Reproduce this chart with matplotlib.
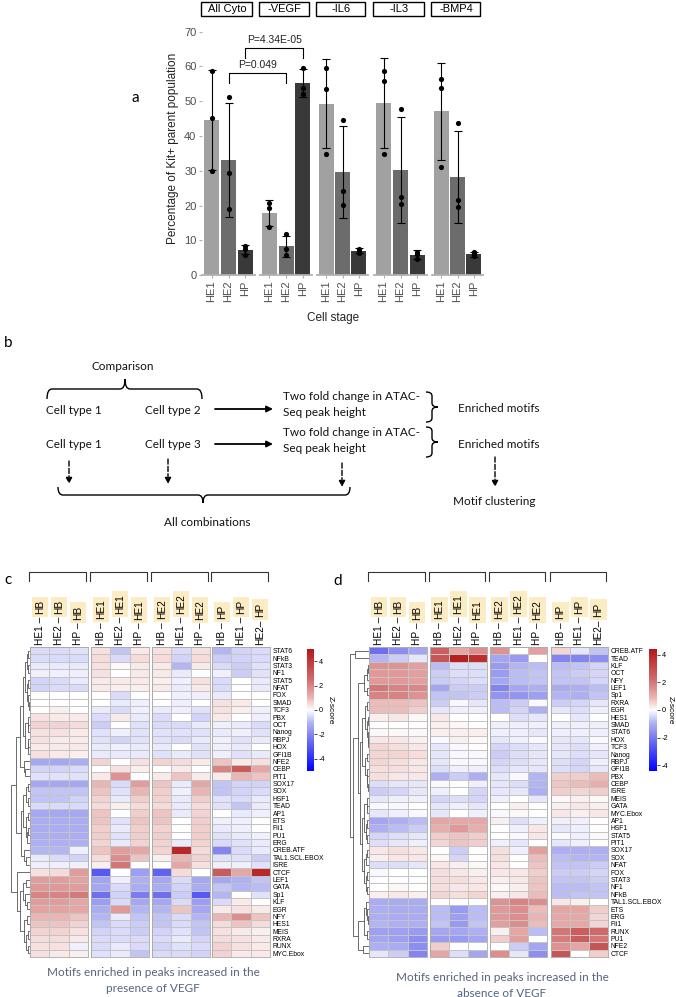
import numpy as np
import matplotlib
matplotlib.use("Agg")
import matplotlib.pyplot as plt
from matplotlib.colors import LinearSegmentedColormap, Normalize
from matplotlib.cm import ScalarMappable
from matplotlib.patches import Rectangle, FancyArrowPatch, PathPatch
from matplotlib.path import Path
from matplotlib.lines import Line2D

W, H = 676, 997
plt.rcParams['font.family'] = ['Liberation Sans', 'DejaVu Sans']

# ---------------- panel a data ----------------
conditions = ["All Cyto", "-VEGF", "-IL6", "-IL3", "-BMP4"]
stages = ["HE1", "HE2", "HP"]
stage_colors = ["#a1a1a1", "#6c6c6c", "#393939"]
bar_mean = [[44.6, 33.2, 7.3], [17.9, 8.4, 55.2], [49.3, 29.7, 7.0],
            [49.6, 30.3, 5.9], [47.1, 28.3, 6.0]]
bar_sd = [[14.3, 16.4, 1.3], [3.6, 3.0, 4.0], [12.8, 13.1, 0.7],
          [12.9, 15.2, 1.3], [14.0, 13.3, 0.7]]
dots = [
    [[58.8, 45.3, 30.0], [51.1, 29.5, 19.0], [8.5, 7.5, 5.8]],
    [[20.7, 19.3, 13.8], [11.9, 7.5, 5.8], [59.7, 53.9, 52.0]],
    [[59.5, 53.5, 34.9], [44.6, 24.2, 20.2], [7.6, 7.0, 6.5]],
    [[58.7, 55.8, 34.8], [47.7, 22.6, 20.5], [6.7, 6.0, 4.6]],
    [[56.3, 53.9, 31.0], [43.7, 21.6, 19.7], [6.8, 6.0, 5.5]],
]
# (facet, stage) pairs compared, bracket top, bracket end, label
comparisons = [((0, 1), (1, 1), 58.2, 55.2, "P=0.049"),
               ((0, 2), (1, 2), 65.2, 62.4, "P=4.34E-05")]

# ---------------- heatmap data ----------------
col_labels = ["HE1 – HB", "HE2 – HB", "HP – HB",
              "HB – HE1", "HE2 – HE1", "HP – HE1",
              "HB – HE2", "HE1 – HE2", "HP – HE2",
              "HB – HP", "HE1 – HP", "HE2– HP"]

c_motifs = ["STAT6", "NFkB", "STAT3", "NF1", "STAT5", "NFAT", "FOX", "SMAD", "TCF3",
            "PBX", "OCT", "Nanog", "RBPJ", "HOX", "GFI1B", "NFE2", "CEBP", "PIT1",
            "SOX17", "SOX", "HSF1", "TEAD", "AP1", "ETS", "Fli1", "PU1", "ERG",
            "CREB.ATF", "TAL1.SCL.EBOX", "ISRE", "CTCF", "LEF1", "GATA", "Sp1", "KLF",
            "EGR", "NFY", "HES1", "MEIS", "RXRA", "RUNX", "MYC.Ebox"]
c_z = [
    [-0.5, -0.5, -0.4, 0.4, -0.8, 0.3, 0.4, -0.5, 0.4, -1.0, -0.6, -0.5],
    [-0.5, -0.5, -0.5, 0.5, -0.5, 0.5, 0.5, -0.6, 0.5, -0.7, -0.6, -0.5],
    [-0.3, -0.3, -0.3, 0.4, 0.1, 0.3, 0.3, -1.0, 0.3, -0.5, -0.7, -0.4],
    [-0.2, -0.2, -0.2, 0.4, 0.0, 0.3, 0.3, -0.3, 0.0, -0.2, -0.7, -0.4],
    [-0.6, -0.5, -0.3, 0.3, 0.3, 0.3, 0.2, -0.2, 0.4, -0.5, 0.0, -0.3],
    [-0.6, -0.5, -0.5, 0.3, 0.2, 0.2, 0.3, -0.3, 0.3, -0.5, 0.0, -0.3],
    [0.0, 0.0, 0.0, 0.0, -0.5, 0.0, 0.0, -0.2, -0.2, -0.3, 0.0, 0.0],
    [0.0, 0.0, 0.0, 0.0, -0.3, -0.2, 0.0, -0.2, 0.0, 0.4, 0.3, 0.0],
    [0.0, 0.2, 0.0, -0.3, -0.5, -0.2, -0.3, -0.2, -0.4, 0.4, 0.2, -0.2],
    [0.4, 0.3, 0.3, -0.5, 0.3, -0.3, -0.5, 0.0, -0.6, 0.3, 0.0, -0.2],
    [0.6, 0.6, 0.5, -0.7, 0.0, -0.4, -0.5, -0.5, -0.3, -0.2, -0.3, -0.5],
    [0.4, 0.4, 0.3, -0.4, -0.2, -0.4, -0.4, -0.4, -0.4, -0.3, -0.2, -0.4],
    [0.4, 0.3, 0.3, -0.4, -0.6, -0.4, -0.4, -0.5, -0.3, -0.2, -0.4, -0.3],
    [0.3, 0.3, 0.3, -0.3, -0.2, -0.3, -0.3, 0.0, -0.4, -0.2, -0.3, 0.0],
    [0.4, 0.3, 0.2, -0.3, -0.3, -0.3, -0.4, -0.3, -0.4, -0.2, -0.4, -0.3],
    [-1.3, -1.3, -1.2, 0.6, 0.0, 0.4, 0.6, 0.5, 0.3, 0.8, 0.3, 0.4],
    [-0.6, -0.6, -0.5, 0.0, 0.4, 0.2, 0.0, 0.3, 0.0, 2.0, 3.0, 1.3],
    [-0.4, -0.4, -0.4, 0.3, 1.7, 0.0, 0.3, 0.8, 0.3, 0.3, 1.0, 0.8],
    [-1.3, -1.3, -1.3, 1.0, -0.5, 1.5, 0.8, -0.3, 1.3, -0.8, -0.6, -0.6],
    [-0.8, -0.8, -0.8, 0.8, -0.4, 1.0, 0.7, -0.2, 1.0, -0.8, -0.6, -0.5],
    [-0.8, -0.8, -0.6, 0.6, -0.3, 0.7, 0.6, -0.3, 0.7, -0.4, -0.5, -0.3],
    [-0.5, -0.5, -0.5, 0.5, 0.2, 0.5, 0.5, -0.3, 0.5, -0.4, -0.8, -0.3],
    [-1.3, -1.3, -1.3, 0.8, 0.0, 0.7, 0.8, -0.3, 0.6, 0.0, -0.3, -0.2],
    [-1.2, -1.2, -1.2, 0.8, -0.4, 0.8, 0.8, 0.0, 0.7, -0.2, -0.2, 0.0],
    [-1.2, -1.2, -1.2, 0.7, -0.3, 0.7, 0.6, 0.0, 0.7, -0.3, -0.2, 0.0],
    [-1.2, -1.2, -1.2, 0.7, -0.4, 0.7, 0.7, 0.0, 0.7, -0.4, -0.3, -0.2],
    [-1.1, -1.1, -1.1, 0.6, -0.3, 0.6, 0.6, -0.3, 0.6, -0.5, -0.4, -0.3],
    [-1.0, -1.0, -0.2, 0.8, 1.5, 1.3, 0.6, 4.5, 0.5, -2.0, -0.5, -0.3],
    [-0.3, -0.5, -0.6, 0.5, 1.8, 0.8, 0.2, 1.0, 0.6, -0.4, -0.4, -0.7],
    [-0.2, -0.2, -0.2, 0.2, 2.3, 0.0, 0.0, 1.3, 0.4, -0.2, -0.2, -0.4],
    [0.4, 0.5, 1.5, -3.0, 0.0, -1.5, -2.8, 0.5, 0.0, 3.0, 1.3, 4.5],
    [1.5, 1.5, 1.4, -1.4, -0.2, -1.1, -1.3, -0.5, -1.3, -1.3, -1.1, -0.8],
    [1.6, 1.6, 1.5, -1.3, -0.5, -1.2, -1.2, -0.6, -1.2, -0.8, -1.0, -0.9],
    [2.0, 2.0, 2.2, -2.5, -0.6, -2.2, -2.5, -0.7, -3.0, -1.0, 0.0, -0.4],
    [1.5, 1.5, 1.3, -1.5, -0.5, -1.3, -1.3, -0.5, -1.5, -0.5, 0.3, 0.0],
    [1.4, 1.4, 1.3, -1.2, 1.6, -1.0, -1.0, 0.8, -1.3, 0.3, 0.4, 0.3],
    [1.0, 1.0, 0.8, -1.0, -0.3, -0.8, -0.8, -0.5, -1.0, 1.0, 1.8, 0.8],
    [0.8, 0.8, 0.6, -0.8, -0.5, -0.7, -0.8, -0.5, -0.8, 0.5, 0.8, 0.5],
    [0.6, 0.6, 0.4, -0.6, -0.5, -0.7, -0.6, -0.4, -0.8, 0.4, 0.3, 0.2],
    [0.5, 0.5, 0.3, -0.5, -0.5, -0.5, -0.5, -0.3, -0.6, 0.5, 0.4, 0.3],
    [0.4, 0.4, -0.2, -0.5, -0.3, -0.5, -0.6, -0.4, -0.5, 0.6, 0.4, 0.3],
    [0.4, 0.3, 0.2, -0.4, -0.3, -0.8, -0.5, -0.5, -0.6, 0.6, 0.3, 0.3],
]

d_motifs = ["CREB.ATF", "TEAD", "KLF", "OCT", "NFY", "LEF1", "Sp1", "RXRA", "EGR",
            "HES1", "SMAD", "STAT6", "HOX", "TCF3", "Nanog", "RBPJ", "GFI1B", "PBX",
            "CEBP", "ISRE", "MEIS", "GATA", "MYC.Ebox", "AP1", "HSF1", "STAT5", "PIT1",
            "SOX17", "SOX", "NFAT", "FOX", "STAT3", "NF1", "NFkB", "TAL1.SCL.EBOX",
            "ETS", "ERG", "Fli1", "RUNX", "PU1", "NFE2", "CTCF"]
d_z = [
    [-2.2, -1.6, -1.2, 2.5, 1.2, 1.6, 1.5, 0.0, 1.3, 0.5, -0.3, -0.7],
    [-0.9, -0.6, -0.3, 2.8, 4.2, 3.8, -1.2, -1.4, 0.0, -1.8, -1.8, -1.6],
    [1.5, 1.5, 1.3, -0.8, -0.4, -0.4, -1.4, -0.9, -0.8, -0.8, -0.7, -0.5],
    [1.4, 1.4, 1.3, -0.6, -0.4, -0.4, -1.4, -0.8, -0.7, -0.7, -0.6, -0.5],
    [1.4, 1.4, 1.3, -0.6, -0.5, -0.4, -1.2, -0.8, -0.7, -0.7, -0.7, -0.5],
    [2.0, 1.8, 1.7, -1.2, -0.6, -0.6, -1.8, -1.2, -1.0, -1.1, -1.0, -0.8],
    [1.8, 1.8, 1.5, -0.7, -0.7, -0.6, -1.5, -1.5, -1.3, -0.9, -1.0, -0.7],
    [0.8, 0.8, 0.7, -0.6, -0.1, -0.3, -0.8, -0.6, -0.1, -0.6, -0.5, -0.3],
    [0.8, 0.8, 0.6, -0.3, -0.2, -0.2, -0.8, -0.5, -1.0, -0.3, -0.4, -0.2],
    [0.2, 0.3, 0.1, 0.3, 0.0, 0.0, 0.0, -0.4, -0.3, 0.0, -0.3, 0.0],
    [0.0, 0.0, 0.0, 0.2, 0.1, 0.0, -0.2, -0.2, -0.2, -0.2, -0.2, -0.2],
    [0.1, 0.1, 0.1, 0.2, 0.2, 0.2, -0.2, -0.2, -0.3, -0.2, -0.2, -0.2],
    [0.3, 0.3, 0.2, -0.1, 0.2, 0.1, -0.3, -0.2, -0.1, -0.3, -0.3, -0.1],
    [0.5, 0.4, 0.3, -0.3, -0.1, 0.0, -0.5, -0.4, -0.3, -0.3, -0.4, -0.2],
    [0.5, 0.5, 0.4, -0.3, -0.1, -0.1, -0.6, -0.4, -0.3, -0.3, -0.4, -0.3],
    [0.5, 0.4, 0.3, -0.3, -0.1, -0.1, -0.5, -0.4, -0.3, -0.4, -0.5, -0.2],
    [0.4, 0.4, 0.3, -0.4, -0.2, -0.2, -0.4, -0.3, -0.3, -0.4, -0.5, -0.3],
    [0.4, 0.3, 0.3, -1.0, -0.6, -1.0, -0.3, -0.1, -0.9, 0.6, 0.6, 0.8],
    [-0.4, -0.3, -0.3, -0.1, 0.0, -0.2, -0.3, -0.4, -0.9, 0.7, 0.8, 1.0],
    [-0.6, -0.5, -0.3, -0.2, 0.0, -0.5, -0.3, -0.3, -1.0, 0.6, 0.5, 0.6],
    [-0.3, -0.2, -0.2, -0.5, -0.4, -0.5, -0.2, 0.0, -0.3, 0.1, 0.2, 0.1],
    [-0.1, -0.1, 0.0, -0.3, -0.2, -0.3, 0.0, 0.2, 0.0, 0.2, 0.3, 0.2],
    [-0.3, -0.2, -0.1, -0.3, 0.0, -0.2, -0.1, 0.1, 0.0, 0.3, 0.2, 0.3],
    [-1.2, -1.0, -0.8, 1.2, 1.1, 1.1, 0.2, -0.4, -0.2, -0.2, -0.2, 0.0],
    [-1.0, -0.8, -0.6, 1.0, 1.4, 1.0, 0.0, -0.2, 0.3, -0.3, -0.2, 0.0],
    [-0.5, -0.4, -0.3, 0.6, 0.7, 0.6, 0.0, -0.1, 0.3, -0.1, -0.2, 0.1],
    [-0.4, -0.3, -0.2, 0.5, 0.7, 0.6, -0.2, -0.3, 0.0, -0.3, -0.2, 0.0],
    [0.3, 0.4, 0.3, 0.0, -0.6, 0.0, 0.4, -0.2, 1.3, -1.0, -1.0, -1.0],
    [0.2, 0.3, 0.3, 0.1, -0.5, 0.0, 0.4, 0.0, 0.8, -0.8, -0.9, -0.9],
    [-0.4, -0.4, -0.3, 0.3, 0.2, 0.1, 0.3, 0.0, 0.7, -0.7, -0.7, -0.6],
    [-0.1, 0.0, 0.0, 0.4, 0.3, 0.2, 0.3, 0.3, 0.6, -0.6, -0.6, -0.5],
    [0.0, 0.0, 0.0, 0.4, 0.4, 0.3, 0.2, 0.3, 0.7, -0.7, -0.7, -0.6],
    [0.0, 0.1, 0.0, 0.4, 0.3, 0.3, 0.1, 0.2, 0.7, -0.8, -0.8, -0.7],
    [0.2, 0.3, 0.2, 0.5, 0.4, 0.5, 0.2, 0.3, 0.8, -0.8, -0.7, -0.7],
    [-1.1, -1.1, -1.1, 0.0, 0.0, 0.0, 1.5, 1.8, 1.6, 0.3, 0.2, 0.0],
    [-1.0, -1.1, -1.1, -0.8, -1.4, -0.8, 1.4, 1.6, 0.8, 1.2, 1.2, 0.6],
    [-1.0, -1.1, -1.1, -0.8, -1.3, -0.8, 1.4, 1.6, 0.9, 1.1, 1.1, 0.5],
    [-0.9, -1.0, -1.0, -0.7, -1.4, -0.7, 1.3, 1.6, 0.8, 1.1, 1.1, 0.5],
    [-1.3, -1.3, -1.4, -1.2, -1.2, -1.0, 0.2, 1.2, -0.8, 2.0, 2.6, 2.3],
    [-1.2, -1.3, -1.6, -1.4, -1.4, -1.2, 0.6, 1.3, 0.0, 1.9, 2.6, 2.0],
    [-1.0, -1.1, -1.6, 0.6, 0.0, 0.0, 0.0, -0.6, -1.2, 1.5, 1.2, 2.8],
    [-0.3, -0.6, -1.8, 1.2, -0.4, -1.2, 1.6, -0.3, -1.6, 2.8, 0.0, 0.6],
]

# row dendrograms: (height, left, right), leaves are row indices
c_tree = (10.0,
          (7.0,
           (5.0,
            (3.5, (2.5, (1.5, (0.8, 0, 1), (0.8, 2, 3)), (1.5, (0.8, 4, 5), (1.0, 6, (0.6, 7, 8)))),
                  (2.8, (1.2, 9, (0.8, 10, 11)), (1.2, (0.8, 12, 13), 14))),
            (3.0, 15, (2.5, 16, 17))),
           (4.5,
            (3.5, (2.0, (1.0, 18, 19), (1.2, 20, 21)), (2.2, (1.0, 22, 23), (1.5, (0.8, 24, 25), 26))),
            (3.2, 27, (2.0, 28, 29)))),
          (6.5, 30,
           (5.0, (3.5, (2.0, 31, 32), (2.5, 33, (1.5, 34, 35))),
                 (3.0, (1.5, 36, 37), (2.0, (1.0, 38, 39), (1.2, 40, 41))))))
d_tree = (10.0,
          (7.0, 0, 1),
          (8.0,
           (5.5,
            (2.5, (1.2, (0.6, 2, 3), 4), (1.0, 5, 6)),
            (4.5,
             (3.5, (2.0, (1.0, 7, 8), (1.2, (0.5, 9, 10), (0.6, 11, (0.4, 12, 13)))),
                   (2.0, (0.8, 14, 15), (1.0, 16, (0.8, 17, (0.6, 18, 19))))),
             (3.8, (2.5, (1.2, 20, (0.8, 21, 22)), (1.5, (0.8, 23, 24), (1.0, 25, 26))),
                   (2.8, (1.5, (0.8, 27, 28), 29), (1.8, (0.8, 30, 31), (1.0, 32, 33)))))),
           (5.5, (2.5, (1.5, 34, (0.8, 35, (0.5, 36, 37))), (1.2, 38, 39)), (3.0, 40, 41))))

fig = plt.figure(figsize=(W / 100, H / 100), dpi=100)


def px_axes(x0, y0, x1, y1):
    return fig.add_axes([x0 / W, 1 - y1 / H, (x1 - x0) / W, (y1 - y0) / H])


def ftext(x, y, s, **kw):
    return fig.text(x / W, 1 - y / H, s, **kw)


def fline(xs, ys, **kw):
    fig.add_artist(Line2D([x / W for x in xs], [1 - y / H for y in ys],
                          transform=fig.transFigure, **kw))


# ================= panel a =================
facet_x = [(202, 255), (260, 312), (317, 368), (374, 427), (432, 483)]
gray_txt = "#4d4d4d"
axes_a = []
for i, cond in enumerate(conditions):
    x0, x1 = facet_x[i]
    ax = px_axes(x0, 24.7, x1, 275.3)
    xs = np.arange(3)
    ax.bar(xs, bar_mean[i], width=0.9, color=stage_colors, zorder=1)
    ax.errorbar(xs, bar_mean[i], yerr=bar_sd[i], fmt="none", ecolor="black",
                elinewidth=0.8, capsize=3, capthick=0.8, zorder=2)
    for j in range(3):
        ax.scatter([j] * len(dots[i][j]), dots[i][j], s=14, color="black", linewidths=0, zorder=3)
    ax.set_xlim(-0.56, 2.56)
    ax.set_ylim(0, 72)
    for s in ["top", "right", "left"]:
        ax.spines[s].set_visible(False)
    ax.spines["bottom"].set_color("#b0b0b0")
    ax.spines["bottom"].set_linewidth(1.3)
    ax.set_xticks(xs)
    ax.set_xticklabels(stages, rotation=90, fontsize=8, color=gray_txt)
    ax.tick_params(axis="x", length=2.5, color="#b0b0b0", pad=1.5)
    if i == 0:
        ax.set_yticks(range(0, 71, 10))
        ax.tick_params(axis="y", length=2.5, color="#b0b0b0", labelsize=8, labelcolor=gray_txt, pad=1.5)
    else:
        ax.set_yticks([])
    ax.patch.set_alpha(0)
    axes_a.append(ax)
    # strip box
    fig.add_artist(Rectangle(((x0 - 1) / W, 1 - 16 / H), (x1 - x0 - 2) / W, 14 / H,
                             transform=fig.transFigure, fill=False, lw=1.0, ec="black"))
    ftext((x0 + x1 - 3) / 2, 9, cond, ha="center", va="center", fontsize=8)

ftext(173, 148, "Percentage of Kit+ parent population", rotation=90, ha="center",
      va="center", fontsize=8.5, color="#222222")
ftext(333, 318, "Cell stage", ha="center", va="center", fontsize=8.5, color="#222222")
ftext(135, 98, "a", ha="center", va="center", fontsize=11, family="Lato")

inv = fig.transFigure.inverted()
for (fa, sa), (fb, sb), top, end, lab in comparisons:
    pa_top = inv.transform(axes_a[fa].transData.transform((sa, top)))
    pa_end = inv.transform(axes_a[fa].transData.transform((sa, end)))
    pb_top = inv.transform(axes_a[fb].transData.transform((sb, top)))
    pb_end = inv.transform(axes_a[fb].transData.transform((sb, end)))
    fig.add_artist(Line2D([pa_end[0], pa_top[0], pb_top[0], pb_end[0]],
                          [pa_end[1], pa_top[1], pb_top[1], pb_end[1]],
                          transform=fig.transFigure, color="black", lw=0.8))
    fig.text((pa_top[0] + pb_top[0]) / 2, pa_top[1] + 3 / H, lab, ha="center",
             va="bottom", fontsize=7.5, color="#222222")

# ================= panel b =================
bfont = dict(family="Lato", fontsize=8.5, color="#111111")


def hbrace(x0, x1, xm, y, d, r=5, tip_up=True):
    s = -1 if tip_up else 1
    verts = [(x0, y - s * d), (x0, y), (x0 + r, y), (xm - r, y), (xm, y), (xm, y + s * d),
             (xm, y + s * d), (xm, y), (xm + r, y), (x1 - r, y), (x1, y), (x1, y - s * d)]
    codes = [Path.MOVETO, Path.CURVE3, Path.CURVE3, Path.LINETO, Path.CURVE3, Path.CURVE3,
             Path.MOVETO, Path.CURVE3, Path.CURVE3, Path.LINETO, Path.CURVE3, Path.CURVE3]
    verts = [(vx / W, 1 - vy / H) for vx, vy in verts]
    fig.add_artist(PathPatch(Path(verts, codes), transform=fig.transFigure, fill=False,
                             lw=1.0, ec="black"))


def vbrace(x, y0, y1, d, r=4):
    ym = (y0 + y1) / 2
    verts = [(x - d, y0), (x, y0), (x, y0 + r), (x, ym - r), (x, ym), (x + d, ym),
             (x + d, ym), (x, ym), (x, ym + r), (x, y1 - r), (x, y1), (x - d, y1)]
    codes = [Path.MOVETO, Path.CURVE3, Path.CURVE3, Path.LINETO, Path.CURVE3, Path.CURVE3,
             Path.MOVETO, Path.CURVE3, Path.CURVE3, Path.LINETO, Path.CURVE3, Path.CURVE3]
    verts = [(vx / W, 1 - vy / H) for vx, vy in verts]
    fig.add_artist(PathPatch(Path(verts, codes), transform=fig.transFigure, fill=False,
                             lw=1.0, ec="black"))


def arrow(x0, y0, x1, y1, dashed=False):
    fig.add_artist(FancyArrowPatch((x0 / W, 1 - y0 / H), (x1 / W, 1 - y1 / H),
                                   transform=fig.transFigure, arrowstyle="-|>",
                                   mutation_scale=9, lw=1.3 if not dashed else 1.0,
                                   linestyle="--" if dashed else "-", color="black",
                                   shrinkA=0, shrinkB=0))


ftext(8, 343, "b", ha="center", va="center", fontsize=11, family="Lato")
ftext(123, 366, "Comparison", ha="center", va="center", **bfont)
hbrace(47, 202, 125, 389, 10, tip_up=True)
for y, ct in [(410, "Cell type 2"), (445, "Cell type 3")]:
    ftext(74, y, "Cell type 1", ha="center", va="center", **bfont)
    ftext(173, y, ct, ha="center", va="center", **bfont)
    arrow(215, y - 1, 273, y - 1)
    ftext(283, y - 13, "Two fold change in ATAC-", ha="left", va="center", **bfont)
    ftext(283, y + 3, "Seq peak height", ha="left", va="center", **bfont)
    vbrace(432, y - 18, y + 12, 6)
    ftext(458, y - 1, "Enriched motifs", ha="left", va="center", **bfont)
arrow(69, 461, 69, 484, dashed=True)
arrow(168, 459, 168, 484, dashed=True)
arrow(342, 463, 342, 487, dashed=True)
arrow(495, 457, 495, 487, dashed=True)
hbrace(58, 350, 203, 495, 8, tip_up=False)
ftext(207, 522, "All combinations", ha="center", va="center", **bfont)
ftext(494, 501, "Motif clustering", ha="center", va="center", **bfont)

# ================= panels c, d =================
cmap = LinearSegmentedColormap.from_list(
    "zs", [(0.0, "#0000ff"), (0.25, "#6e6ef0"), (0.4, "#b4b6f4"), (0.5, "#ffffff"),
           (0.6, "#eab6b4"), (0.75, "#d06c6c"), (1.0, "#b31818")])


def draw_tree(ax, node):
    if isinstance(node, int):
        return node + 0.5, 0.0
    h, left, right = node
    y1, h1 = draw_tree(ax, left)
    y2, h2 = draw_tree(ax, right)
    ax.plot([h1, h, h, h2], [y1, y1, y2, y2], color="#555555", lw=0.6)
    return (y1 + y2) / 2, h


def heatmap_panel(z, motifs, tree, groups, tree_x, cbar_x, vlim, zlab_x, letter, cap):
    z = np.array(z)
    norm = Normalize(-vlim, vlim)
    top, bot = 647, 957
    n = len(motifs)
    renderer = fig.canvas.get_renderer()
    for g, (gx0, gx1) in enumerate(groups):
        ax = px_axes(gx0, top, gx1, bot)
        ax.pcolormesh(z[:, 3 * g:3 * g + 3], cmap=cmap, norm=norm,
                      edgecolors="#c4c4c4", linewidth=0.4)
        ax.set_xlim(0, 3)
        ax.set_ylim(n, 0)
        ax.set_xticks([])
        for s in ax.spines.values():
            s.set_color("#a8a8a8")
            s.set_linewidth(0.6)
        if g == len(groups) - 1:
            ax.yaxis.tick_right()
            ax.set_yticks(np.arange(n) + 0.5)
            ax.set_yticklabels(motifs, fontsize=4.9)
            ax.tick_params(axis="y", length=0, pad=2)
        else:
            ax.set_yticks([])
        # group bracket
        fline([gx0 - 1, gx0 - 1, gx1 - 2, gx1 - 2], [581, 572, 572, 581], color="#333333", lw=0.8)
        # column labels, the reference part highlighted
        cw = (gx1 - gx0) / 3
        for k in range(3):
            lab = col_labels[3 * g + k]
            left, right = lab.split("–")
            xc = gx0 + cw * (k + 0.5)
            t1 = ftext(xc, 645, left + "–", rotation=90, ha="center", va="bottom", fontsize=7.3)
            bb = t1.get_window_extent(renderer)
            ytop = H - bb.y1
            ftext(xc, ytop - 3, right.strip(), rotation=90, ha="center", va="bottom",
                  fontsize=7.3, bbox=dict(boxstyle="square,pad=0.3", fc="#fbecc4", ec="none"))
    # dendrogram
    dax = px_axes(tree_x[0], top, tree_x[1], bot)
    draw_tree(dax, tree)
    dax.set_xlim(10.3, 0)
    dax.set_ylim(n, 0)
    dax.axis("off")
    # colorbar
    cax = px_axes(cbar_x[0], 649, cbar_x[1], 771)
    cb = fig.colorbar(ScalarMappable(norm=norm, cmap=cmap), cax=cax, ticks=[-4, -2, 0, 2, 4])
    cb.ax.set_yticklabels(["-4", "-2", "0", "2", "4"])
    cb.outline.set_visible(False)
    cb.ax.tick_params(labelsize=5.3, length=2, width=0.5, pad=1.5)
    ftext(zlab_x, 710, "Z-score", rotation=270, ha="center", va="center", fontsize=6)
    ftext(letter[1], letter[2], letter[0], ha="center", va="center", fontsize=11, family="Lato")
    for (cx, cy, s) in cap:
        ftext(cx, cy, s, ha="center", va="center", family="Lato", fontsize=8.5, color="#56647f")


heatmap_panel(c_z, c_motifs, c_tree, [(30, 88), (91, 149), (152, 210), (212, 270)],
              (10, 30), (307, 314), 5.0, 330, ("c", 8, 580),
              [(153, 972, "Motifs enriched in peaks increased in the"), (153, 988, "presence of VEGF")])
heatmap_panel(d_z, d_motifs, d_tree, [(369, 427), (430, 487), (490, 547), (551, 608)],
              (349, 369), (649, 657), 4.4, 670, ("d", 338, 581),
              [(502, 977, "Motifs enriched in peaks increased in the"), (502, 993, "absence of VEGF")])

fig.savefig("out.png", dpi=100)
